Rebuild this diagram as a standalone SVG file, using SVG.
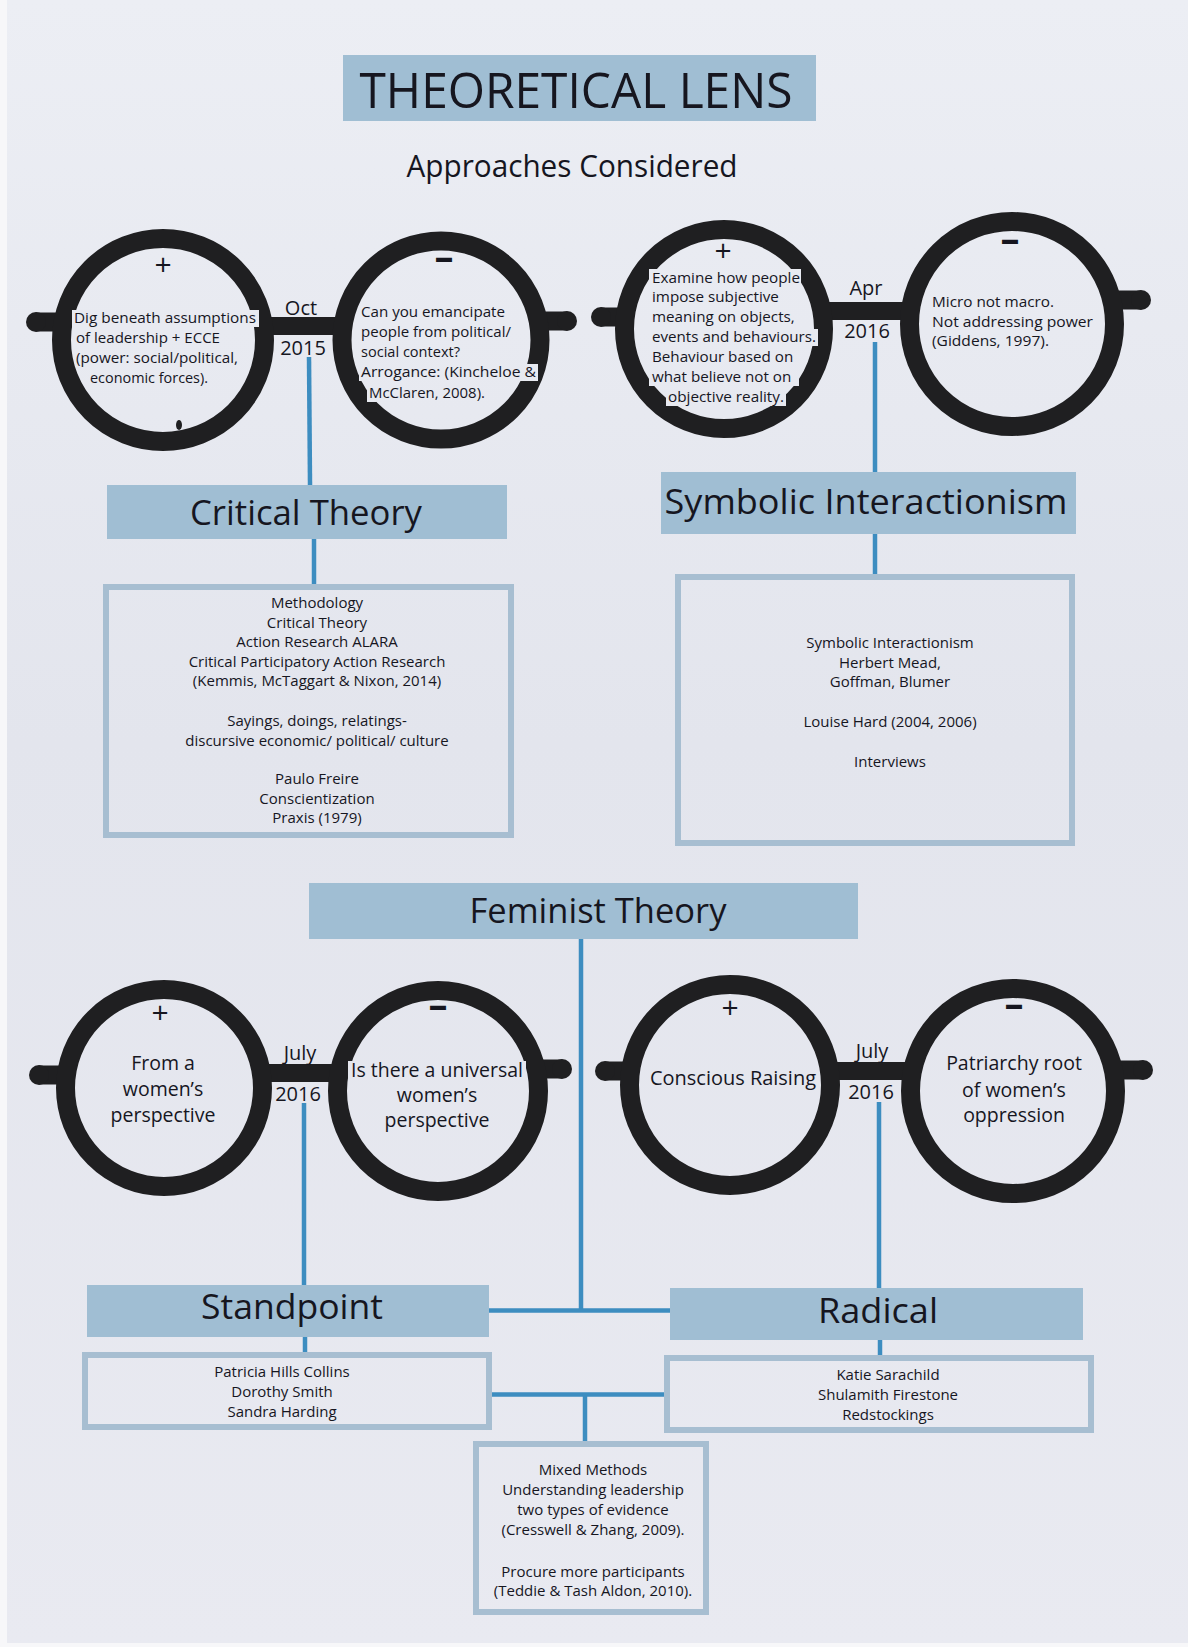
<svg xmlns="http://www.w3.org/2000/svg" width="1188" height="1647" viewBox="0 0 1188 1647">
  <defs>
    <linearGradient id="paper" gradientUnits="userSpaceOnUse" x1="0" y1="0" x2="0" y2="1647">
      <stop offset="0" stop-color="#eceef4"/>
      <stop offset="0.45" stop-color="#e3e5ed"/>
      <stop offset="1" stop-color="#e9eaf1"/>
    </linearGradient>
    <style>
      .lens { fill: none; stroke: #1f1f21; stroke-width: 19; }
      .arm { stroke: #1f1f21; stroke-width: 19; stroke-linecap: butt; }
      .tip { fill: #1f1f21; }
      .bridge { stroke: #1f1f21; stroke-width: 18; stroke-linecap: butt; }
      .knock { fill: url(#paper); }
      .band { fill: #a0bed3; }
      .panel { fill: none; stroke: #a7bed1; stroke-width: 6; }
      .link { fill: none; stroke: #3d8dc0; stroke-width: 4.5; }
      text { font-family: "Open Sans", "Noto Sans", "Liberation Sans", sans-serif; fill: #16161f; }
      .h1 { font-size: 50px; text-anchor: middle; }
      .h2 { font-size: 31px; text-anchor: middle; }
      .h3 { font-size: 34px; text-anchor: middle; }
      .small { font-size: 15.2px; }
      .body { font-size: 15px; text-anchor: middle; }
      .mid { font-size: 19.5px; text-anchor: middle; }
      .date { font-size: 20px; text-anchor: middle; }
      .plus { font-size: 30px; text-anchor: middle; }
      .minus { font-size: 38px; font-weight: bold; text-anchor: middle; }
    </style>
  </defs>

  <!-- paper -->
  <rect x="0" y="0" width="1188" height="1647" fill="url(#paper)"/>
  <rect x="0" y="0" width="7" height="1647" fill="#f7f7f9"/>
  <rect x="0" y="1643" width="1188" height="4" fill="#f7f7f9"/>

  <!-- title -->
  <g id="title">
    <rect class="band" x="343" y="55" width="473" height="66"/>
    <text class="h1" x="576" y="108" textLength="433" lengthAdjust="spacingAndGlyphs">THEORETICAL LENS</text>
  </g>
  <g id="subtitle">
    <text class="h2" x="572" y="177" textLength="331" lengthAdjust="spacingAndGlyphs">Approaches Considered</text>
  </g>

  <!-- connectors -->
  <g id="connectors">
    <line class="link" x1="309" y1="357" x2="310" y2="485"/>
    <line class="link" x1="314" y1="539" x2="314" y2="587"/>
    <line class="link" x1="875" y1="342" x2="875" y2="472"/>
    <line class="link" x1="875" y1="534" x2="875" y2="577"/>
    <line class="link" x1="581" y1="939" x2="581" y2="1311"/>
    <line class="link" x1="489" y1="1310.5" x2="670" y2="1310.5"/>
    <line class="link" x1="304" y1="1103" x2="304" y2="1285"/>
    <line class="link" x1="305" y1="1337" x2="305" y2="1355"/>
    <line class="link" x1="879" y1="1102" x2="879" y2="1288"/>
    <line class="link" x1="880" y1="1340" x2="880" y2="1358"/>
    <line class="link" x1="489" y1="1394.5" x2="669" y2="1394.5"/>
    <line class="link" x1="585" y1="1394" x2="585" y2="1444"/>
  </g>

  <!-- glasses: critical theory -->
  <g id="glasses-critical">
    <line class="arm" x1="36" y1="322" x2="66" y2="322"/>
    <circle class="tip" cx="36" cy="322" r="10"/>
    <line class="arm" x1="538" y1="321" x2="567" y2="321"/>
    <circle class="tip" cx="567" cy="321" r="10"/>
    <line class="bridge" x1="262" y1="326" x2="345" y2="326"/>
    <circle class="lens" cx="163" cy="340" r="101.5"/>
    <circle class="lens" cx="441" cy="340" r="99"/>
    <ellipse cx="179" cy="425" rx="3" ry="5" fill="#1f1f21"/>
    <rect class="knock" x="72" y="310" width="187" height="17"/>
    <rect class="knock" x="359" y="364" width="179" height="17"/>
    <rect class="knock" x="367" y="385" width="120" height="17"/>
    <text class="plus" x="163" y="275">+</text>
    <text class="minus" x="444" y="270">–</text>
    <text class="date" x="301" y="315">Oct</text>
    <text class="date" x="303" y="355">2015</text>
    <text class="small" x="74" y="323" textLength="182" lengthAdjust="spacingAndGlyphs">Dig beneath assumptions</text>
    <text class="small" x="76" y="343" textLength="144" lengthAdjust="spacingAndGlyphs">of leadership + ECCE</text>
    <text class="small" x="76" y="363" textLength="162" lengthAdjust="spacingAndGlyphs">(power: social/political,</text>
    <text class="small" x="90" y="383" textLength="118" lengthAdjust="spacingAndGlyphs">economic forces).</text>
    <text class="small" x="361" y="317" textLength="144" lengthAdjust="spacingAndGlyphs">Can you emancipate</text>
    <text class="small" x="361" y="337" textLength="150" lengthAdjust="spacingAndGlyphs">people from political/</text>
    <text class="small" x="361" y="357" textLength="99" lengthAdjust="spacingAndGlyphs">social context?</text>
    <text class="small" x="361" y="377" textLength="175" lengthAdjust="spacingAndGlyphs">Arrogance: (Kincheloe &amp;</text>
    <text class="small" x="369" y="398" textLength="116" lengthAdjust="spacingAndGlyphs">McClaren, 2008).</text>
  </g>

  <!-- glasses: symbolic interactionism -->
  <g id="glasses-symbolic">
    <line class="arm" x1="601" y1="317" x2="625" y2="317"/>
    <circle class="tip" cx="601" cy="317" r="10"/>
    <line class="arm" x1="1111" y1="300" x2="1141" y2="300"/>
    <circle class="tip" cx="1141" cy="300" r="10"/>
    <line class="bridge" x1="822" y1="311" x2="910" y2="311"/>
    <circle class="lens" cx="724" cy="329" r="99.5"/>
    <circle class="lens" cx="1012" cy="324" r="102.5"/>
    <rect class="knock" x="649" y="269" width="152" height="17"/>
    <rect class="knock" x="650" y="329" width="168" height="17"/>
    <rect class="knock" x="649" y="369" width="150" height="17"/>
    <rect class="knock" x="666" y="389" width="120" height="17"/>
    <text class="plus" x="723" y="261">+</text>
    <text class="minus" x="1010" y="252">–</text>
    <text class="date" x="866" y="295">Apr</text>
    <text class="date" x="867" y="338">2016</text>
    <text class="small" x="652" y="283" textLength="148" lengthAdjust="spacingAndGlyphs">Examine how people</text>
    <text class="small" x="652" y="302">impose subjective</text>
    <text class="small" x="652" y="322">meaning on objects,</text>
    <text class="small" x="652" y="342" textLength="164" lengthAdjust="spacingAndGlyphs">events and behaviours.</text>
    <text class="small" x="652" y="362">Behaviour based on</text>
    <text class="small" x="652" y="382">what believe not on</text>
    <text class="small" x="668" y="402" textLength="116" lengthAdjust="spacingAndGlyphs">objective reality.</text>
    <text class="small" x="932" y="307" textLength="122" lengthAdjust="spacingAndGlyphs">Micro not macro.</text>
    <text class="small" x="932" y="327" textLength="161" lengthAdjust="spacingAndGlyphs">Not addressing power</text>
    <text class="small" x="932" y="346" textLength="117" lengthAdjust="spacingAndGlyphs">(Giddens, 1997).</text>
  </g>

  <!-- heading bands -->
  <g id="critical-theory">
    <rect class="band" x="107" y="485" width="400" height="54"/>
    <text class="h3" x="306" y="525" textLength="232" lengthAdjust="spacingAndGlyphs">Critical Theory</text>
  </g>
  <g id="symbolic-interactionism">
    <rect class="band" x="661" y="472" width="415" height="62"/>
    <text class="h3" x="866" y="514" font-size="36" textLength="403" lengthAdjust="spacingAndGlyphs">Symbolic Interactionism</text>
  </g>

  <!-- detail panels -->
  <g id="critical-methods">
    <rect class="panel" x="106" y="587" width="405" height="248"/>
    <text class="body" x="317" y="608">Methodology</text>
    <text class="body" x="317" y="627.5">Critical Theory</text>
    <text class="body" x="317" y="647">Action Research ALARA</text>
    <text class="body" x="317" y="666.5">Critical Participatory Action Research</text>
    <text class="body" x="317" y="686">(Kemmis, McTaggart &amp; Nixon, 2014)</text>
    <text class="body" x="317" y="726">Sayings, doings, relatings-</text>
    <text class="body" x="317" y="745.5">discursive economic/ political/ culture</text>
    <text class="body" x="317" y="784">Paulo Freire</text>
    <text class="body" x="317" y="803.5">Conscientization</text>
    <text class="body" x="317" y="823">Praxis (1979)</text>
  </g>
  <g id="symbolic-methods">
    <rect class="panel" x="678" y="577" width="394" height="266"/>
    <text class="body" x="890" y="648">Symbolic Interactionism</text>
    <text class="body" x="890" y="667.5">Herbert Mead,</text>
    <text class="body" x="890" y="687">Goffman, Blumer</text>
    <text class="body" x="890" y="727">Louise Hard (2004, 2006)</text>
    <text class="body" x="890" y="767">Interviews</text>
  </g>

  <g id="feminist-theory">
    <rect class="band" x="309" y="883" width="549" height="56"/>
    <text class="h3" x="598" y="923" textLength="257" lengthAdjust="spacingAndGlyphs">Feminist Theory</text>
  </g>

  <!-- glasses: standpoint -->
  <g id="glasses-standpoint">
    <line class="arm" x1="39" y1="1075" x2="66" y2="1075"/>
    <circle class="tip" cx="39" cy="1075" r="10"/>
    <line class="arm" x1="536" y1="1069" x2="562" y2="1069"/>
    <circle class="tip" cx="562" cy="1069" r="10"/>
    <line class="bridge" x1="262" y1="1073" x2="339" y2="1073"/>
    <circle class="lens" cx="164" cy="1088" r="98.5"/>
    <circle class="lens" cx="438" cy="1091" r="100.5"/>
    <rect class="knock" x="348" y="1061" width="178" height="21"/>
    <text class="plus" x="160" y="1023">+</text>
    <text class="minus" x="438" y="1018">–</text>
    <text class="date" x="300" y="1060">July</text>
    <text class="date" x="298" y="1101">2016</text>
    <text class="mid" x="163" y="1070">From a</text>
    <text class="mid" x="163" y="1096">women’s</text>
    <text class="mid" x="163" y="1122">perspective</text>
    <text class="mid" x="437" y="1077" textLength="172" lengthAdjust="spacingAndGlyphs">Is there a universal</text>
    <text class="mid" x="437" y="1102">women’s</text>
    <text class="mid" x="437" y="1127">perspective</text>
  </g>

  <!-- glasses: radical -->
  <g id="glasses-radical">
    <line class="arm" x1="605" y1="1071" x2="630" y2="1071"/>
    <circle class="tip" cx="605" cy="1071" r="10"/>
    <line class="arm" x1="1113" y1="1070" x2="1143" y2="1070"/>
    <circle class="tip" cx="1143" cy="1070" r="10"/>
    <line class="bridge" x1="829" y1="1071" x2="912" y2="1071"/>
    <circle class="lens" cx="730" cy="1085" r="100.5"/>
    <circle class="lens" cx="1013" cy="1091" r="102.5"/>
    <rect class="knock" x="647" y="1069" width="172" height="21"/>
    <text class="plus" x="730" y="1018">+</text>
    <text class="minus" x="1014" y="1017">–</text>
    <text class="date" x="872" y="1058">July</text>
    <text class="date" x="871" y="1099">2016</text>
    <text class="mid" x="733" y="1085" textLength="166" lengthAdjust="spacingAndGlyphs">Conscious Raising</text>
    <text class="mid" x="1014" y="1070">Patriarchy root</text>
    <text class="mid" x="1014" y="1097">of women’s</text>
    <text class="mid" x="1014" y="1122">oppression</text>
  </g>

  <g id="standpoint">
    <rect class="band" x="87" y="1285" width="402" height="52"/>
    <text class="h3" x="292" y="1319" font-size="35" textLength="182" lengthAdjust="spacingAndGlyphs">Standpoint</text>
  </g>
  <g id="radical">
    <rect class="band" x="670" y="1288" width="413" height="52"/>
    <text class="h3" x="878" y="1323" font-size="35" textLength="120" lengthAdjust="spacingAndGlyphs">Radical</text>
  </g>

  <g id="standpoint-authors">
    <rect class="panel" x="85" y="1355" width="404" height="72"/>
    <text class="body" x="282" y="1377">Patricia Hills Collins</text>
    <text class="body" x="282" y="1397">Dorothy Smith</text>
    <text class="body" x="282" y="1417">Sandra Harding</text>
  </g>
  <g id="radical-authors">
    <rect class="panel" x="667" y="1358" width="424" height="72"/>
    <text class="body" x="888" y="1380">Katie Sarachild</text>
    <text class="body" x="888" y="1400">Shulamith Firestone</text>
    <text class="body" x="888" y="1420">Redstockings</text>
  </g>

  <g id="mixed-methods">
    <rect class="panel" x="476" y="1444" width="230" height="168"/>
    <text class="body" x="593" y="1475">Mixed Methods</text>
    <text class="body" x="593" y="1495">Understanding leadership</text>
    <text class="body" x="593" y="1515">two types of evidence</text>
    <text class="body" x="593" y="1535">(Cresswell &amp; Zhang, 2009).</text>
    <text class="body" x="593" y="1577">Procure more participants</text>
    <text class="body" x="593" y="1596">(Teddie &amp; Tash Aldon, 2010).</text>
  </g>
</svg>
